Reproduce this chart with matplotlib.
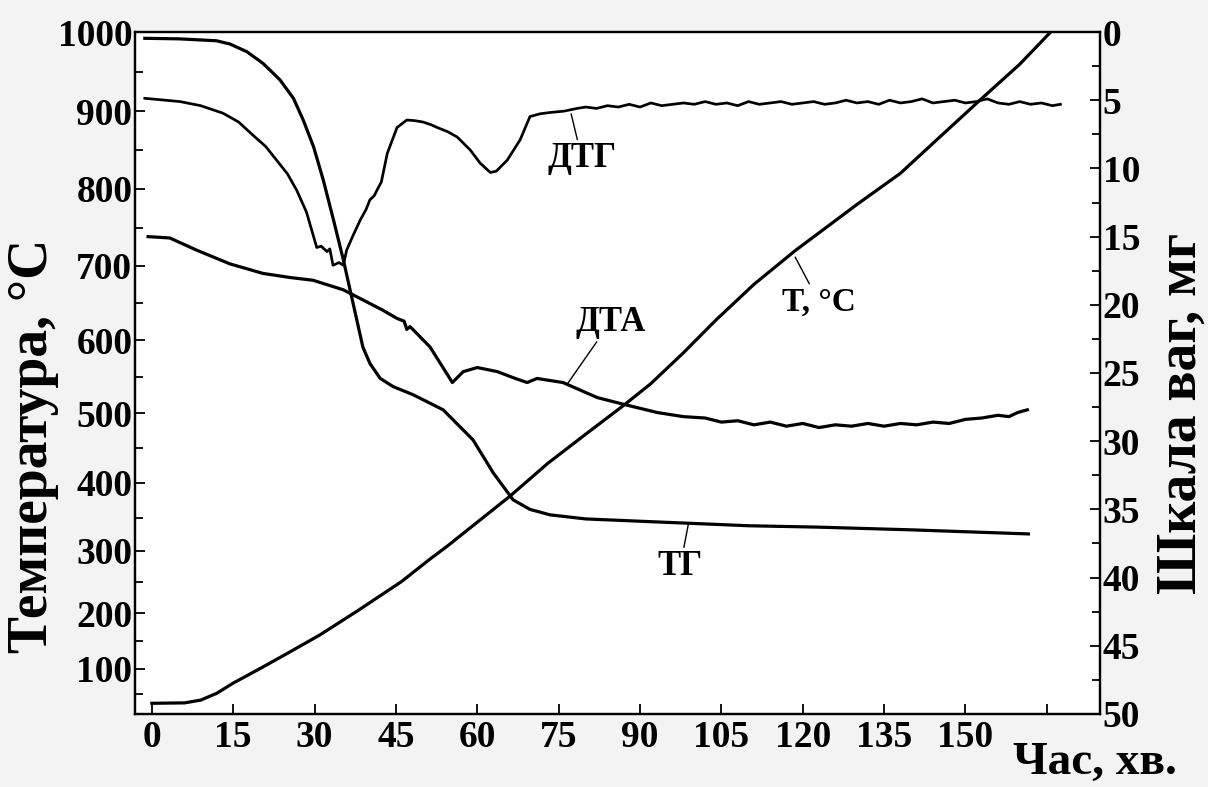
import numpy as np
import matplotlib
matplotlib.use('Agg')
import matplotlib.pyplot as plt
from matplotlib.ticker import MultipleLocator, FixedLocator

# time, min
# T, °C (left axis)
t_temp = [0, 6, 9, 12, 15, 20, 25, 31, 38, 46, 51.3, 54.4, 60, 66, 73, 80, 87, 92, 98, 104, 111,
          118.6, 130, 138, 145, 152.8, 160, 165.7]
temp = [27, 28, 35, 52, 72, 101, 128, 161, 204, 250, 287, 307, 344, 381, 428, 470, 511, 541, 583, 627, 675,
        720, 780, 820, 865, 915, 960, 1000]

# ТГ, mg (right axis)
t_tg = [-1.3, 5, 11.9, 14.4, 17.5, 20.5, 23.6, 26.1, 27.9, 29.8, 31.6, 33.5, 35.3, 37.1, 38.9, 40.2,
        42.1, 44.5, 48.2, 53.7, 59.2, 62.9, 66.6, 69.7, 73.4, 80, 91.9, 98, 110, 122.7, 140, 161.6]
tg = [0.46, 0.5, 0.64, 0.88, 1.44, 2.3, 3.5, 4.86, 6.45, 8.4, 10.85, 13.8, 16.7, 19.9, 23.1, 24.3,
      25.4, 26.0, 26.6, 27.7, 29.9, 32.3, 34.3, 35.0, 35.4, 35.7, 35.9, 36.0, 36.2, 36.3, 36.5, 36.8]

# ДТГ, mg scale
t_dtg = [-1.3, 5.2, 9, 13.1, 16, 18.6, 21, 23, 25, 26.7, 28.5, 30.4, 31.2, 32.3, 32.8, 33.4, 34.5, 35.3,
         35.9, 37, 38.4, 39.5, 40.2, 41, 41.5, 42.3, 43.4, 45.2, 47, 48.5, 50, 51.5, 52.6, 54.5, 56.3,
         58.7, 60.5, 62.4, 63.5, 65.5, 67.9, 69.7, 71.5, 73.4, 76, 78.4, 80, 82, 84, 86,
         88, 90, 92, 94, 96, 98, 100, 102, 104, 106, 108, 110, 112, 114, 116,
         118, 120, 122, 124, 126, 128, 130, 132, 134, 136, 138, 140, 142, 144, 146,
         148, 150, 152, 154, 156, 158, 160, 162, 164, 166, 167.5]
dtg = [4.86, 5.1, 5.4, 5.95, 6.6, 7.55, 8.4, 9.4, 10.4, 11.6, 13.2, 15.8, 15.7, 16.1, 15.9, 17.1, 16.9, 17.1,
       16.0, 15.0, 13.8, 13.0, 12.3, 12.0, 11.6, 11.0, 8.9, 7.0, 6.45, 6.5, 6.6, 6.8, 7.0, 7.3, 7.7,
       8.65, 9.6, 10.3, 10.2, 9.4, 7.9, 6.2, 6.0, 5.9, 5.8, 5.6, 5.5, 5.6, 5.4, 5.5,
       5.3, 5.5, 5.2, 5.4, 5.3, 5.2, 5.3, 5.1, 5.3, 5.2, 5.4, 5.1, 5.3, 5.2, 5.1,
       5.3, 5.2, 5.1, 5.3, 5.2, 5.0, 5.2, 5.1, 5.3, 5.0, 5.2, 5.1, 4.9, 5.2, 5.1,
       5.0, 5.2, 5.1, 4.9, 5.2, 5.3, 5.1, 5.3, 5.2, 5.4, 5.3]

# ДТА, mg scale
t_dta = [-0.7, 3.3, 8.3, 14.4, 20.5, 25.5, 29.7, 35.3, 42.6, 45.2, 46.5, 47, 47.6, 51.3, 55.4,
         57.4, 60, 63.7, 67, 69.2, 71, 75.8, 82.1, 87, 93.2, 98, 102, 105, 108,
         111, 114, 117, 120, 123, 126, 129, 132, 135, 138, 141, 144, 147, 150,
         153, 156, 158, 159.6, 161.4]
dta = [15.0, 15.1, 16.0, 17.0, 17.7, 18.0, 18.2, 18.9, 20.4, 21.0, 21.2, 21.8, 21.6, 23.1, 25.7,
       24.9, 24.6, 24.9, 25.4, 25.7, 25.4, 25.7, 26.8, 27.3, 27.9, 28.2, 28.3, 28.6, 28.5,
       28.8, 28.6, 28.9, 28.7, 29.0, 28.8, 28.9, 28.7, 28.9, 28.7, 28.8, 28.6, 28.7, 28.4,
       28.3, 28.1, 28.2, 27.9, 27.7]

x_ticks = [0, 15, 30, 45, 60, 75, 90, 105, 120, 135, 150, 165]
x_labels = ['0', '15', '30', '45', '60', '75', '90', '105', '120', '135', '150', '']

# the scanned temperature axis is not evenly spaced
scale_vals = [-1000, 0, 50, 100, 150, 200, 250, 300, 350, 400, 450, 500, 550,
              600, 650, 700, 750, 800, 850, 900, 950, 1000, 2000]
scale_pos = [-1.5, 0, .029, .066, .107, .148, .194, .239, .287, .339, .390, .441, .494,
             .548, .603, .657, .713, .770, .827, .884, .941, 1.0, 2.0]


def fwd(v):
    return np.interp(v, scale_vals, scale_pos)


def inv(p):
    return np.interp(p, scale_pos, scale_vals)


plt.rcParams['font.family'] = ['Liberation Serif', 'DejaVu Serif']
plt.rcParams['font.weight'] = 'bold'

fig = plt.figure(figsize=(12.08, 7.87), dpi=100, facecolor='#f3f3f3')
ax = fig.add_axes([0.1118, 0.0928, 0.7988, 0.8665])
ax.set_facecolor('white')
ax2 = ax.twinx()

lw = 2.3
ax.plot(t_temp, temp, color='black', lw=lw)
ax2.plot(t_tg, tg, color='black', lw=lw)
ax2.plot(t_dtg, dtg, color='black', lw=lw * 0.85)
ax2.plot(t_dta, dta, color='black', lw=lw)

ax.set_xlim(-3.1, 174.8)
ax.set_yscale('function', functions=(fwd, inv))
ax.set_ylim(0, 1000)
ax2.set_ylim(50, 0)

ax.set_xticks(x_ticks)
ax.set_xticklabels(x_labels)
ax.set_yticks(list(range(100, 1001, 100)))
ax.yaxis.set_minor_locator(FixedLocator(list(range(0, 1001, 50))))
ax2.yaxis.set_major_locator(MultipleLocator(5))
ax2.yaxis.set_minor_locator(MultipleLocator(2.5))

for a in (ax, ax2):
    for s in a.spines.values():
        s.set_linewidth(1.6)
    a.tick_params(which='both', direction='in', width=1.3, labelsize=27)
    a.tick_params(which='major', length=7)
    a.tick_params(which='minor', length=6)
ax.tick_params(axis='x', pad=4)
ax.tick_params(axis='y', pad=2)
ax2.tick_params(axis='y', pad=2)

fig.text(0.027, 0.433, 'Температура, °C', rotation=90, ha='center', va='center',
         fontsize=40, fontweight='bold')
fig.text(0.978, 0.475, 'Шкала ваг, мг', rotation=90, ha='center', va='center',
         fontsize=40, fontweight='bold')
fig.text(0.906, 0.030, 'Час, хв.', ha='center', va='center', fontsize=34, fontweight='bold')

arrow = dict(arrowstyle='-', color='black', lw=1.0, shrinkA=0, shrinkB=0)
ax2.annotate('ДТГ', xy=(77.3, 6.0), xytext=(79.3, 9.3), ha='center', va='center',
             fontsize=25, fontweight='bold', arrowprops=arrow)
ax2.annotate('ДТА', xy=(76.6, 25.8), xytext=(84.5, 21.3), ha='center', va='center',
             fontsize=25, fontweight='bold', arrowprops=arrow)
ax2.annotate('T, °C', xy=(118.6, 16.5), xytext=(123.0, 19.8), ha='center', va='center',
             fontsize=24, fontweight='bold', arrowprops=arrow)
ax2.annotate('ТГ', xy=(98.9, 36.1), xytext=(97.4, 39.2), ha='center', va='center',
             fontsize=25, fontweight='bold', arrowprops=arrow)

fig.savefig('out.png', dpi=100, facecolor=fig.get_facecolor())
